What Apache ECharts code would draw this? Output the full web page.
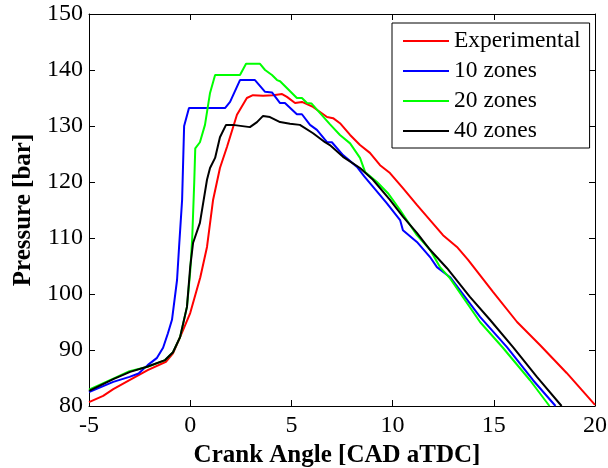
<!DOCTYPE html>
<html>
<head>
<meta charset="utf-8">
<script src="https://cdn.jsdelivr.net/npm/echarts@6/dist/echarts.min.js"></script>
<style>
  html, body { margin: 0; padding: 0; background: #fff; }
  #chart { width: 608px; height: 468px; }
</style>
</head>
<body>
<div id="chart"></div>
<script>
// Cylinder pressure vs crank angle: measurement and multi-zone model runs
const seriesNames = ['Experimental', '10 zones', '20 zones', '40 zones'];
const seriesColors = ['#ff0000', '#0000ff', '#00ff00', '#000000'];

const expX = [-5, -4.3, -3.8, -3.0, -2.1, -1.2, -0.85, -0.5, 0, 0.5, 0.83, 1.13, 1.47, 1.82, 2.31, 2.8, 3.1, 3.6, 4.1, 4.54, 4.78, 5.18, 5.52, 6.07, 6.76, 7.06, 7.4, 7.9, 8.39, 8.88, 9.38, 9.87, 10.51, 11.2, 11.85, 12.49, 13.18, 13.73, 14.96, 16.15, 17.28, 18.6, 20];
const expY = [80.7, 81.8, 83.0, 84.6, 86.4, 87.9, 89.4, 92.3, 96.6, 103, 108.4, 116.8, 122.5, 126.3, 132, 135, 135.5, 135.4, 135.5, 135.7, 135.2, 134.1, 134.3, 133.4, 131.6, 131.4, 130.5, 128.4, 126.6, 125.2, 123, 121.6, 118.9, 115.9, 113.2, 110.5, 108.4, 106.1, 100.4, 95, 90.9, 85.9, 80.2];

const z10X = [-5, -3.8, -3.0, -2.55, -2.1, -1.64, -1.34, -1.1, -0.9, -0.65, -0.55, -0.4, -0.3, -0.06, 1.72, 1.97, 2.46, 3.2, 3.7, 4.04, 4.44, 4.68, 5.27, 5.52, 5.92, 6.26, 6.76, 7.0, 7.55, 8.24, 8.6, 8.88, 9.72, 10.37, 10.51, 11.2, 11.85, 12.19, 12.84, 14.32, 15.65, 16.94, 18.05];
const z10Y = [82.5, 84.3, 85.2, 85.8, 87.3, 88.6, 90.4, 93, 95.4, 102.5, 108.4, 116.8, 130, 133.2, 133.2, 134.3, 138.2, 138.2, 136.1, 136, 134.1, 134.1, 132.1, 132.1, 130.2, 129.3, 127.1, 127.1, 124.8, 122.7, 121, 119.8, 116.2, 113.2, 111.4, 109.3, 106.6, 104.8, 103, 95.9, 90.5, 84.6, 80];

const z20X = [-5, -3.8, -3.0, -2.1, -1.24, -0.85, -0.5, -0.16, 0.0, 0.1, 0.2, 0.25, 0.48, 0.73, 0.98, 1.23, 2.46, 2.76, 3.45, 3.7, 4.04, 4.29, 4.44, 5.27, 5.52, 5.77, 6.0, 6.91, 7.4, 7.9, 8.39, 8.64, 9.23, 9.77, 10.37, 11.2, 11.85, 12.34, 12.84, 14.32, 15.45, 16.79, 17.75];
const z20Y = [82.9, 84.9, 86.2, 87.0, 88.2, 89.6, 92.3, 97.7, 104, 110, 120, 126, 127.1, 130.2, 135.9, 139.1, 139.1, 141.1, 141.1, 140, 139.1, 138.2, 138, 135, 135, 134.1, 134, 130.3, 128.4, 126.9, 124.3, 121.8, 120, 118, 115, 110.5, 107.9, 104.8, 102.8, 95, 90.4, 84.6, 80];

const z40X = [-5, -3.8, -2.97, -2.13, -1.24, -0.85, -0.5, -0.16, 0, 0.14, 0.48, 0.83, 0.98, 1.23, 1.47, 1.77, 2.11, 2.95, 3.3, 3.6, 3.94, 4.44, 4.93, 5.42, 6.07, 6.66, 6.9, 7.55, 8.39, 9.03, 9.87, 10.51, 11.2, 11.85, 12.69, 13.82, 14.81, 15.95, 17.13, 18.35];
const z40Y = [82.7, 84.8, 86.1, 87.0, 88.2, 89.6, 92.3, 97.7, 104.8, 109.1, 112.7, 120.4, 122.5, 124.3, 128, 130.2, 130.2, 129.8, 130.7, 131.8, 131.6, 130.7, 130.4, 130.2, 128.7, 127.1, 126.6, 124.5, 122.5, 120.4, 116.8, 113.8, 110.9, 107.9, 104.6, 99.5, 95.4, 90.5, 85.2, 80];

const xTicks = [-5, 0, 5, 10, 15, 20];
const yTicks = [80, 90, 100, 110, 120, 130, 140, 150];

const allX = [expX, z10X, z20X, z40X];
const allY = [expY, z10Y, z20Y, z40Y];

const serif = '"Liberation Serif", "Times New Roman", serif';

function pairs(xs, ys) {
  return xs.map((x, i) => [x, ys[i]]);
}

const xBase = {
  type: 'value',
  min: xTicks[0],
  max: xTicks[xTicks.length - 1],
  interval: xTicks[1] - xTicks[0],
  splitLine: { show: false },
  axisLine: { show: true, onZero: false, lineStyle: { color: '#000', width: 1 } },
  axisTick: { show: true, inside: true, length: 6, lineStyle: { color: '#000' } }
};
const yBase = {
  type: 'value',
  min: yTicks[0],
  max: yTicks[yTicks.length - 1],
  interval: yTicks[1] - yTicks[0],
  splitLine: { show: false },
  axisLine: { show: true, onZero: false, lineStyle: { color: '#000', width: 1 } },
  axisTick: { show: true, inside: true, length: 6, lineStyle: { color: '#000' } }
};

const chart = echarts.init(document.getElementById('chart'), null, { renderer: 'canvas' });

chart.setOption({
  animation: false,
  backgroundColor: '#fff',
  grid: { left: 89, right: 13, top: 14, bottom: 62, containLabel: false, outerBoundsMode: 'none' },
  legend: {
    orient: 'vertical',
    left: 392,
    top: 23,
    data: seriesNames,
    itemWidth: 46,
    itemHeight: 20,
    itemGap: 6,
    padding: [6, 9, 5, 10],
    borderColor: '#000',
    borderWidth: 1,
    backgroundColor: '#fff',
    itemStyle: { opacity: 0, borderWidth: 0 },
    lineStyle: { width: 2 },
    textStyle: { fontFamily: serif, fontSize: 23.5, color: '#000' }
  },
  xAxis: [
    Object.assign({}, xBase, {
      position: 'bottom',
      name: 'Crank Angle [CAD aTDC]',
      nameLocation: 'middle',
      nameGap: 36,
      nameTextStyle: { fontFamily: serif, fontSize: 25, fontWeight: 'bold', color: '#000', padding: [0, 10, 0, 0] },
      axisLabel: { show: true, margin: 8, fontFamily: serif, fontSize: 24, color: '#000' }
    }),
    Object.assign({}, xBase, { position: 'top', axisLabel: { show: false } })
  ],
  yAxis: [
    Object.assign({}, yBase, {
      position: 'left',
      name: 'Pressure [bar]',
      nameLocation: 'middle',
      nameGap: 46,
      nameTextStyle: { fontFamily: serif, fontSize: 25, fontWeight: 'bold', color: '#000' },
      axisLabel: { show: true, margin: 6, fontFamily: serif, fontSize: 24, color: '#000' }
    }),
    Object.assign({}, yBase, { position: 'right', axisLabel: { show: false } })
  ],
  series: seriesNames.map((name, i) => ({
    name: name,
    type: 'line',
    xAxisIndex: 0,
    yAxisIndex: 0,
    data: pairs(allX[i], allY[i]),
    symbol: 'none',
    showSymbol: false,
    smooth: false,
    color: seriesColors[i],
    lineStyle: { color: seriesColors[i], width: 2 },
    z: 2 + i
  }))
});
</script>
</body>
</html>
